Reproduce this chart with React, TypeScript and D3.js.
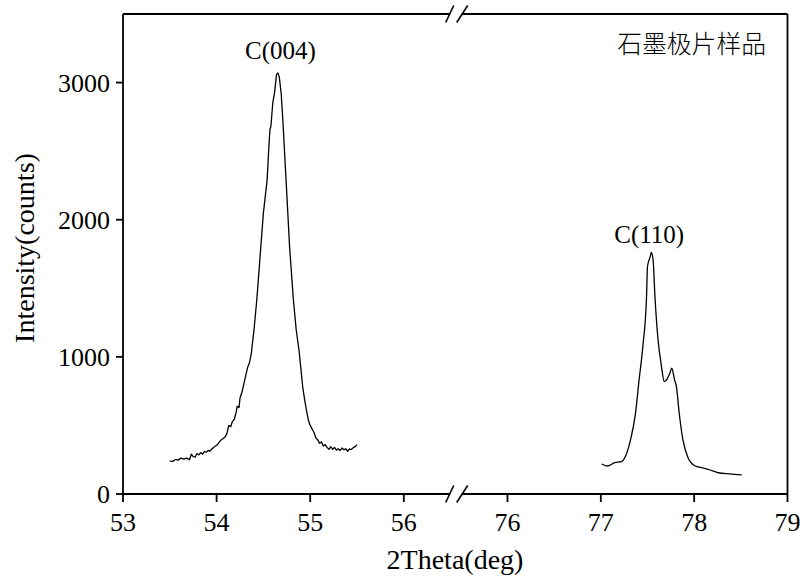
import React from "react";
import * as d3 from "d3";

const c004Theta = [53.5,53.53,53.56,53.59,53.62,53.65,53.68,53.71,53.73,53.75,53.77,53.79,53.81,53.83,53.85,53.87,53.89,53.91,53.93,53.95,53.97,53.99,54.01,54.03,54.05,54.07,54.09,54.11,54.13,54.15,54.17,54.19,54.21,54.22,54.24,54.25,54.27,54.29,54.31,54.33,54.35,54.37,54.4,54.43,54.47,54.5,54.54,54.56,54.57,54.58,54.6,54.62,54.64,54.655,54.67,54.69,54.71,54.74,54.78,54.82,54.85,54.88,54.9,54.92,54.94,54.96,54.98,55.0,55.02,55.04,55.06,55.08,55.1,55.12,55.14,55.16,55.18,55.2,55.22,55.24,55.26,55.28,55.3,55.32,55.34,55.36,55.38,55.4,55.42,55.44,55.46,55.48,55.5];
const c004Counts = [240,238,252,247,262,255,262,250,290,272,268,295,285,302,290,310,305,318,312,330,340,352,360,380,395,405,415,440,500,490,530,545,600,640,630,700,740,800,860,920,955,1020,1200,1420,1780,2050,2290,2550,2660,2680,2850,2930,3060,3070,3040,2920,2700,2316,1800,1420,1200,1050,920,780,690,610,540,500,475,450,410,395,370,380,350,360,340,325,345,325,340,320,330,318,335,322,330,312,328,325,338,345,360];

const c110Theta = [77.01,77.07,77.15,77.22,77.27,77.32,77.37,77.41,77.45,77.49,77.5,77.53,77.54,77.56,77.58,77.61,77.65,77.68,77.71,77.74,77.76,77.79,77.81,77.84,77.88,77.93,78.01,78.08,78.17,78.26,78.38,78.51];
const c110Counts = [219,204,229,236,285,400,580,832,1075,1440,1659,1732,1761,1708,1440,1148,929,820,837,881,917,832,783,589,394,272,204,192,175,155,146,139];

const xTicksLeft = [53, 54, 55, 56];
const xTicksRight = [76, 77, 78, 79];
const yTicks = [0, 1000, 2000, 3000];
const peakLabels = ["C(004)", "C(110)"];
const peakPositions = [54.65, 77.54];
const peakHeights = [3070, 1761];
const legendText = "石墨极片样品";
const xTitle = "2Theta(deg)";
const yTitle = "Intensity(counts)";

export default function App() {
  const W = 803, H = 579;
  const left = 123, right = 787.5, top = 14, bottom = 494;
  const brk = 455.7;
  const xL = d3.scaleLinear().domain([53, 56.5]).range([left, 450.6]);
  const xR = d3.scaleLinear().domain([75.5, 79]).range([460.8, right]);
  const y = d3.scaleLinear().domain([0, 3500]).range([bottom, top]);
  const serif = "'Liberation Serif', 'Times New Roman', serif";

  const lineL = d3.line<number>().x((d, i) => xL(c004Theta[i])).y((d) => y(d));
  const lineR = d3.line<number>().x((d, i) => xR(c110Theta[i])).y((d) => y(d)).curve(d3.curveMonotoneX);

  const breakMarks = (yy: number, key: string) => (
    <g key={key}>
      <line x1={brk - 10} y1={yy + 8.5} x2={brk - 2} y2={yy - 8.5} stroke="#000" strokeWidth={1.6} />
      <line x1={brk + 1} y1={yy + 8.5} x2={brk + 12} y2={yy - 8.5} stroke="#000" strokeWidth={1.6} />
    </g>
  );

  return (
    <svg width={W} height={H} style={{ position: "absolute", left: 0, top: 0, background: "#fff" }}>
      <rect x={0} y={0} width={W} height={H} fill="#fff" />
      <g stroke="#000" strokeWidth={1.8} fill="none">
        <line x1={left} y1={top} x2={left} y2={bottom} />
        <line x1={right} y1={top} x2={right} y2={bottom} />
        <line x1={left} y1={top} x2={brk - 6} y2={top} />
        <line x1={brk + 6} y1={top} x2={right} y2={top} />
        <line x1={left} y1={bottom} x2={brk - 6} y2={bottom} />
        <line x1={brk + 6} y1={bottom} x2={right} y2={bottom} />
      </g>
      {breakMarks(top, "bt")}
      {breakMarks(bottom, "bb")}
      {yTicks.map((t) => (
        <g key={"y" + t}>
          <line x1={left - 7} x2={left} y1={y(t)} y2={y(t)} stroke="#000" strokeWidth={1.8} />
          <text x={left - 13} y={y(t) + 9} textAnchor="end" fontFamily={serif} fontSize={26}>{t}</text>
        </g>
      ))}
      {[...xTicksLeft.map((t) => ({ t, px: xL(t) })), ...xTicksRight.map((t) => ({ t, px: xR(t) }))].map(({ t, px }) => (
        <g key={"x" + t}>
          <line x1={px} x2={px} y1={bottom} y2={bottom + 8} stroke="#000" strokeWidth={1.8} />
          <text x={px} y={bottom + 37} textAnchor="middle" fontFamily={serif} fontSize={26}>{t}</text>
        </g>
      ))}
      <path d={lineL(c004Counts) || ""} fill="none" stroke="#000" strokeWidth={1.3} strokeLinejoin="round" />
      <path d={lineR(c110Counts) || ""} fill="none" stroke="#000" strokeWidth={1.3} strokeLinejoin="round" />
      <text x={xL(peakPositions[0]) + 3} y={y(peakHeights[0]) - 14} textAnchor="middle" fontFamily={serif} fontSize={25}>{peakLabels[0]}</text>
      <text x={xR(peakPositions[1]) - 2} y={y(peakHeights[1]) - 9} textAnchor="middle" fontFamily={serif} fontSize={25}>{peakLabels[1]}</text>
      <text x={766} y={53} textAnchor="end" fontFamily="'Noto Sans CJK SC', sans-serif" fontWeight={300} fontSize={24.8}>{legendText}</text>
      <text x={455} y={569} textAnchor="middle" fontFamily={serif} fontSize={28}>{xTitle}</text>
      <text transform={`translate(34, 248) rotate(-90)`} textAnchor="middle" fontFamily={serif} fontSize={28}>{yTitle}</text>
    </svg>
  );
}
